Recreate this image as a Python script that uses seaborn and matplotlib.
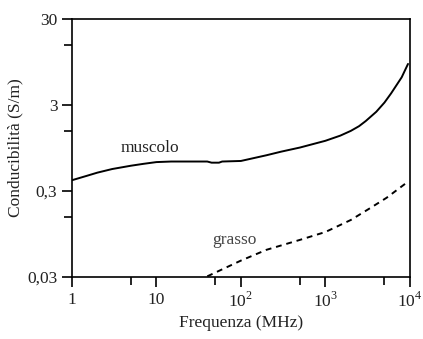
import numpy as np
import pandas as pd
import matplotlib
matplotlib.use("Agg")
import matplotlib.pyplot as plt
import seaborn as sb

# values (frequency in MHz, conductivity in S/m)
freq_muscolo = [1, 1.5, 2, 3, 5, 7, 10, 15, 20, 40, 45, 55, 60, 100, 200, 300, 500,
                1000, 1500, 2000, 2500, 3000, 4000, 5000, 6000, 8000, 9500]
cond_muscolo = [0.40, 0.45, 0.49, 0.54, 0.59, 0.62, 0.65, 0.66, 0.66, 0.66, 0.64, 0.64,
                0.66, 0.67, 0.78, 0.86, 0.96, 1.15, 1.32, 1.5, 1.7, 1.95, 2.5, 3.2,
                4.1, 6.3, 9.0]

freq_grasso = [40, 100, 200, 500, 1000, 2000, 3400, 5300, 9500]
cond_grasso = [0.0305, 0.0465, 0.062, 0.081, 0.10, 0.138, 0.19, 0.25, 0.385]

x_ticks = [1, 10, 100, 1000, 10000]
x_labels = ["1", "10", "$10^2$", "$10^3$", "$10^4$"]
y_ticks = [0.03, 0.3, 3, 30]
y_labels = ["0,03", "0,3", "3", "30"]


def main():
    sb.set_style("ticks")
    plt.rcParams["font.family"] = ["Liberation Serif", "DejaVu Serif"]
    plt.rcParams["mathtext.fontset"] = "custom"
    plt.rcParams["mathtext.rm"] = "Liberation Serif"

    df_m = pd.DataFrame({"f": freq_muscolo, "s": cond_muscolo})
    df_g = pd.DataFrame({"f": freq_grasso, "s": cond_grasso})

    fig = plt.figure(figsize=(4.23, 3.39), dpi=100)
    ax = fig.add_axes([0.170, 0.183, 0.799, 0.761])

    sb.lineplot(data=df_m, x="f", y="s", ax=ax, color="black", linewidth=1.4)
    sb.lineplot(data=df_g, x="f", y="s", ax=ax, color="black", linewidth=1.4,
                linestyle=(0, (3, 2.5)))

    ax.set_xscale("log")
    ax.set_yscale("log")
    ax.set_xlim(1, 1e4)
    ax.set_ylim(0.03, 30)

    ax.set_xticks(x_ticks)
    ax.set_xticklabels(x_labels)
    ax.set_xticks([5, 50, 500, 5000], minor=True)
    ax.set_yticks(y_ticks)
    ax.set_yticklabels(y_labels)
    ax.set_yticks([0.15, 1.5, 15], minor=True)
    ax.tick_params(axis="both", which="major", length=7, width=1.2,
                   labelsize=12.5, color="black", labelcolor="#222222",
                   direction="out")
    ax.tick_params(axis="both", which="minor", length=6, width=1.2,
                   color="black", labelbottom=False, labelleft=False)
    ax.tick_params(axis="both", which="both", top=False, right=False)

    for side in ax.spines.values():
        side.set_color("black")
        side.set_linewidth(1.2)

    ax.set_xlabel("Frequenza (MHz)", fontsize=12.5, color="#222222", labelpad=3)
    ax.set_ylabel("Conducibilità (S/m)", fontsize=12.5, color="#222222", labelpad=3)

    ax.text(8.4, 0.95, "muscolo", fontsize=12.5, ha="center", va="center", color="#222222")
    ax.text(85, 0.081, "grasso", fontsize=12.5, ha="center", va="center", color="#444444")

    fig.savefig("out.png", dpi=100)


if __name__ == "__main__":
    main()
